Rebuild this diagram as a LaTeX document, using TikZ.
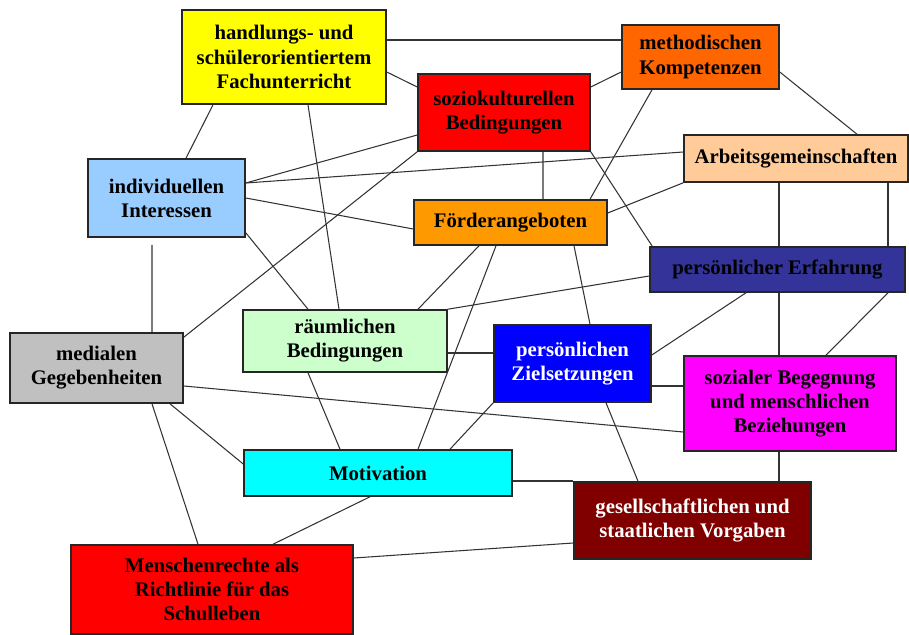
\documentclass[tikz,border=0pt]{standalone}
\usepackage{fontspec}
\setmainfont{Liberation Serif}
\usepackage{tikz}
\tikzset{box/.style={draw=black!85, line width=0.9pt, inner sep=0pt, align=center,
    font=\fontsize{11.8}{13.7}\selectfont\bfseries},
  link/.style={draw=black!80, line width=0.6pt}}

\begin{document}
\begin{tikzpicture}[x=0.02cm, y=-0.02cm]
        \useasboundingbox (0,0) rectangle (909,635);

        \node (Fach)  [box, fill={rgb,255:red,255;green,255;blue,0}, minimum width=4.08cm, minimum height=1.88cm] at (284,57)
              {handlungs- und\\schülerorientiertem\\Fachunterricht};
        \node (Sozio) [box, fill={rgb,255:red,255;green,0;blue,0}, minimum width=3.44cm, minimum height=1.54cm] at (504,112.5)
              {soziokulturellen\\Bedingungen};
        \node (Meth)  [box, fill={rgb,255:red,255;green,102;blue,0}, minimum width=3.14cm, minimum height=1.28cm] at (700.5,57)
              {methodischen\\Kompetenzen};
        \node (AG)    [box, fill={rgb,255:red,255;green,204;blue,153}, minimum width=4.48cm, minimum height=.94cm] at (796,158.5)
              {Arbeitsgemeinschaften};
        \node (Int)   [box, fill={rgb,255:red,153;green,204;blue,255}, minimum width=3.14cm, minimum height=1.56cm] at (166.5,198)
              {individuellen\\Interessen};
        \node (Foerd) [box, fill={rgb,255:red,255;green,153;blue,0}, minimum width=3.86cm, minimum height=.9cm] at (510.5,222.5)
              {Förderangeboten};
        \node (Erf)   [box, fill={rgb,255:red,51;green,51;blue,153}, minimum width=5.1cm, minimum height=.9cm] at (777.5,269.5)
              {persönlicher Erfahrung};
        \node (Raum)  [box, fill={rgb,255:red,204;green,255;blue,204}, minimum width=4.08cm, minimum height=1.24cm] at (345,341)
              {räumlichen\\Bedingungen};
        \node (Med)   [box, fill={rgb,255:red,192;green,192;blue,192}, minimum width=3.46cm, minimum height=1.4cm] at (96.5,368)
              {medialen\\Gegebenheiten};
        \node (Ziel)  [box, fill={rgb,255:red,0;green,0;blue,255}, text=white, minimum width=3.14cm, minimum height=1.54cm] at (572.5,363.5)
              {persönlichen\\Zielsetzungen};
        \node (Begeg) [box, fill={rgb,255:red,255;green,0;blue,255}, minimum width=4.24cm, minimum height=1.9cm] at (790,403.5)
              {sozialer Begegnung\\und menschlichen\\Beziehungen};
        \node (Mot)   [box, fill={rgb,255:red,0;green,255;blue,255}, minimum width=5.36cm, minimum height=.92cm] at (378,473)
              {Motivation};
        \node (Vorg)  [box, fill={rgb,255:red,128;green,0;blue,0}, text=white, minimum width=4.74cm, minimum height=1.54cm] at (692.5,520.5)
              {gesellschaftlichen und\\staatlichen Vorgaben};
        \node (MR)    [box, fill={rgb,255:red,255;green,0;blue,0}, minimum width=5.64cm, minimum height=1.78cm] at (212,589.5)
              {Menschenrechte als\\Richtlinie für das\\Schulleben};

        % Fachunterricht
        \draw[link] ([yshift=.34cm]Fach.east) -- ([yshift=.34cm]Fach.east -| Meth.west);
        \draw[link] ([yshift=-.3cm]Fach.east) -- ([yshift=.51cm]Sozio.west);
        \draw[link] ([xshift=-1.42cm]Fach.south) -- ([xshift=.39cm]Int.north);
        \draw[link] ([xshift=.48cm]Fach.south) -- ([xshift=-.12cm]Raum.north);

        % soziokulturelle Bedingungen
        \draw[link] ([yshift=.51cm]Sozio.east) -- ([yshift=-.3cm]Meth.west);
        \draw[link] ([yshift=-.45cm]Sozio.west) -- ([yshift=.3cm]Int.east);
        \draw[link] (Sozio.south west) -- ([yshift=-.1cm]Med.north east);
        \draw[link] ([xshift=.78cm]Sozio.south) -- ([xshift=.65cm]Foerd.north);
        \draw[link] (Sozio.south east) -- ([xshift=.06cm]Erf.north west);

        % individuelle Interessen
        \draw[link] ([yshift=.3cm]Int.east) -- ([yshift=.13cm]AG.west);
        \draw[link] (Int.east) -- ([yshift=-.13cm]Foerd.west);
        \draw[link] ([yshift=.1cm]Int.south east) -- ([xshift=-.74cm]Raum.north);
        \draw[link, shorten <=.14cm] ([xshift=-.29cm]Int.south) -- ([xshift=1.11cm]Med.north);

        % methodische Kompetenzen, AGs
        \draw[link] ([xshift=-.97cm]Meth.south) -- ([xshift=1.59cm]Foerd.north);
        \draw[link] ([yshift=-.3cm]Meth.east) -- ([xshift=1.22cm]AG.north);
        \draw[link] (AG.south west) -- ([yshift=.19cm]Foerd.east);
        \draw[link] ([xshift=-.34cm]AG.south) -- ([xshift=-.34cm]AG.south |- Erf.north);
        \draw[link] ([xshift=1.84cm]AG.south) -- ([xshift=1.84cm]AG.south |- Erf.north);

        % Förderangebote
        \draw[link] ([xshift=-.63cm]Foerd.south) -- ([xshift=1.46cm]Raum.north);
        \draw[link] ([xshift=-.29cm]Foerd.south) -- ([xshift=.8cm]Mot.north);
        \draw[link] ([xshift=1.27cm]Foerd.south) -- ([xshift=.35cm]Ziel.north);

        % persönliche Erfahrung
        \draw[link] ([yshift=-.13cm]Erf.west) -- (Raum.north east);
        \draw[link] ([xshift=-.63cm]Erf.south) -- ([yshift=.17cm]Ziel.east);
        \draw[link] ([xshift=.03cm]Erf.south) -- ([xshift=.03cm]Erf.south |- Begeg.north);
        \draw[link] ([xshift=2.21cm]Erf.south) -- ([xshift=.72cm]Begeg.north);

        % räumliche Bedingungen, Zielsetzungen
        \draw[link] ([yshift=-.24cm]Raum.east) -- ([yshift=-.24cm]Raum.east -| Ziel.west);
        \draw[link] ([xshift=-.74cm]Raum.south) -- ([xshift=-.76cm]Mot.north);
        \draw[link] (Ziel.south west) -- ([xshift=1.44cm]Mot.north);
        \draw[link] ([yshift=-.45cm]Ziel.east) -- ([yshift=-.45cm]Ziel.east -| Begeg.west);
        \draw[link] ([xshift=.67cm]Ziel.south) -- ([xshift=-1.09cm]Vorg.north);

        % mediale Gegebenheiten
        \draw[link] ([yshift=-.36cm]Med.east) -- ([yshift=-.57cm]Begeg.west);
        \draw[link] ([xshift=1.47cm]Med.south) -- ([yshift=.18cm]Mot.west);
        \draw[link] ([xshift=1.11cm]Med.south) -- ([xshift=-.28cm]MR.north);

        % Motivation, Menschenrechte, Vorgaben
        \draw[link] ([xshift=-.16cm]Mot.south) -- ([xshift=1.22cm]MR.north);
        \draw[link] ([yshift=-.16cm]Mot.east) -- ([yshift=-.16cm]Mot.east -| Vorg.west);
        \draw[link] ([yshift=.63cm]MR.east) -- ([yshift=-.45cm]Vorg.west);
        \draw[link] ([xshift=-.22cm]Begeg.south) -- ([xshift=-.22cm]Begeg.south |- Vorg.north);
      \end{tikzpicture}
\end{document}
